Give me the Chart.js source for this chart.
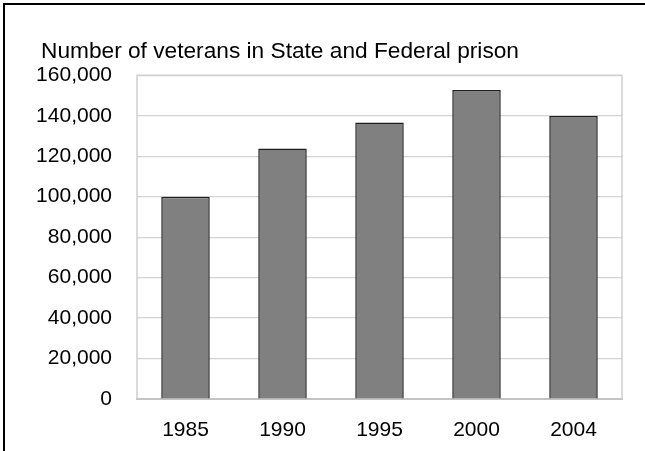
<!DOCTYPE html>
<html>
<head>
<meta charset="utf-8">
<script src="https://cdn.jsdelivr.net/npm/chart.js@4/dist/chart.umd.min.js"></script>
<style>
    html, body { margin: 0; padding: 0; background: #fff; overflow: hidden; }
    #wrap { position: relative; width: 645px; height: 451px; overflow: hidden; }
    #frame {
        position: absolute; left: 3px; top: 3px; width: 700px; height: 500px;
        border-top: 2px solid #000; border-left: 2px solid #000;
    }
    #chart { position: absolute; left: 0; top: 0; }
</style>
</head>
<body>
<div id="wrap">
    <div id="frame"></div>
    <canvas id="chart" width="645" height="451"></canvas>
</div>
<script>
const years = ["1985", "1990", "1995", "2000", "2004"];
const veterans = [100000, 123800, 136600, 152700, 139900];
const yTicks = [0, 20000, 40000, 60000, 80000, 100000, 120000, 140000, 160000];
const chartTitle = "Number of veterans in State and Federal prison";

const FONT = "'Liberation Sans', Arial, sans-serif";

// grey frame round the plot area, and nudge the title a bit to the right
const plotBorder = {
    id: "plotBorder",
    afterLayout(chart) {
        if (chart.titleBlock) {
            chart.titleBlock.left += 7;
            chart.titleBlock.right += 7;
        }
    },
    afterDraw(chart) {
        const a = chart.chartArea;
        const ctx = chart.ctx;
        ctx.save();
        ctx.strokeStyle = "#d0d0d0";
        ctx.lineWidth = 1.5;
        ctx.beginPath();
        ctx.moveTo(a.left, a.bottom);
        ctx.lineTo(a.left, a.top);
        ctx.lineTo(a.right, a.top);
        ctx.lineTo(a.right, a.bottom);
        ctx.stroke();
        ctx.restore();
    }
};

new Chart(document.getElementById("chart"), {
    type: "bar",
    data: {
        labels: years,
        datasets: [{
            data: veterans,
            backgroundColor: "#808080",
            borderColor: "#1e1e1e",
            borderWidth: 1.5,
            barPercentage: 0.5,
            categoryPercentage: 1
        }]
    },
    options: {
        responsive: false,
        animation: false,
        layout: { padding: { left: 34, right: 23, top: 0, bottom: 0 } },
        plugins: {
            legend: { display: false },
            tooltip: { enabled: false },
            title: {
                display: true,
                text: chartTitle,
                align: "start",
                color: "#000",
                font: { family: FONT, size: 22.7, weight: "normal" },
                padding: { top: 38, bottom: 10 }
            }
        },
        scales: {
            x: {
                grid: { display: false, drawTicks: false },
                border: { display: true, color: "#c4c4c4", width: 2 },
                ticks: { color: "#000", padding: 18.5, font: { family: FONT, size: 21 } },
                afterFit: scale => { scale.height = 52; }
            },
            y: {
                min: 0,
                max: 160000,
                afterBuildTicks: scale => { scale.ticks = yTicks.map(v => ({ value: v })); },
                grid: { color: "#d4d4d4", lineWidth: 1.2, drawTicks: false },
                border: { display: false },
                ticks: {
                    color: "#000",
                    padding: 25,
                    font: { family: FONT, size: 21 },
                    callback: v => v.toLocaleString("en-US")
                },
                afterFit: scale => { scale.width = 103; }
            }
        }
    },
    plugins: [plotBorder]
});
</script>
</body>
</html>
